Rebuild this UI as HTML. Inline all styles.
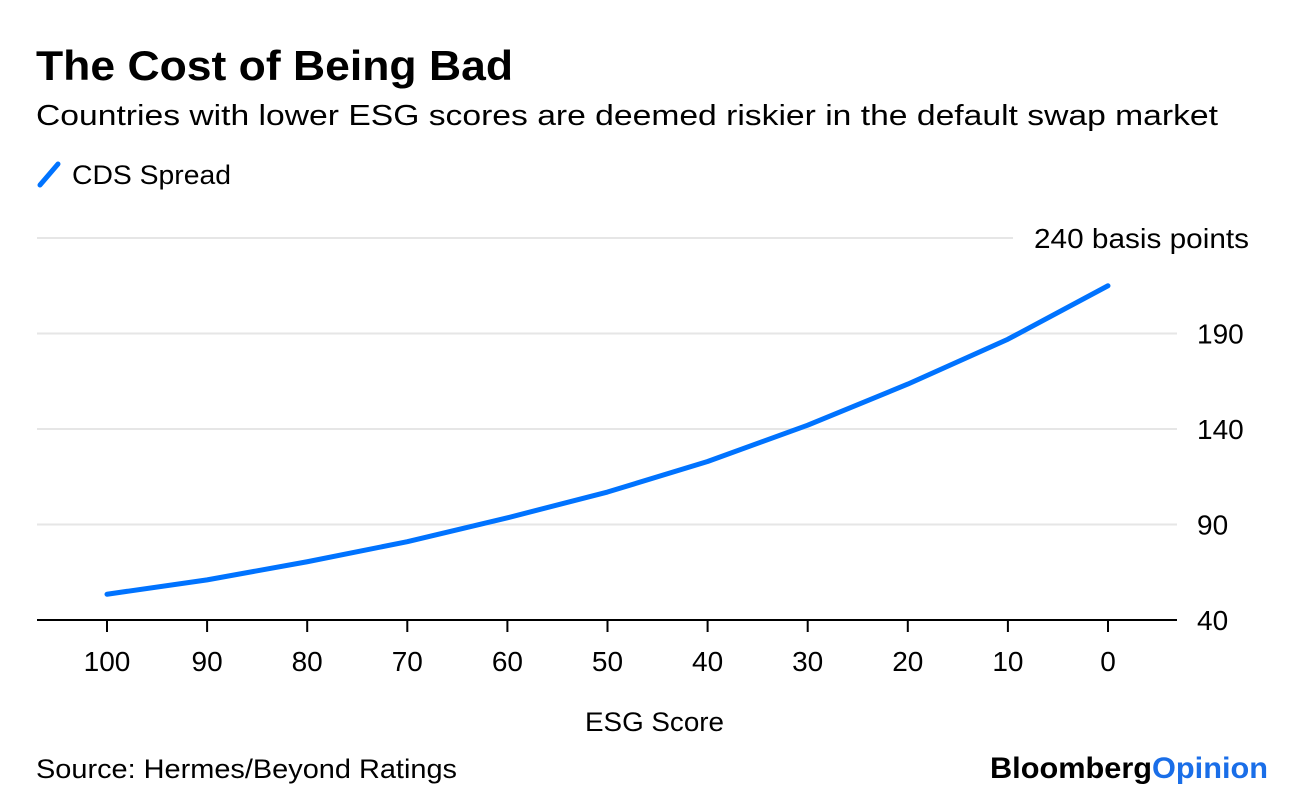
<!DOCTYPE html>
<html><head><meta charset="utf-8"><style>
body{margin:0;background:#fff;width:1296px;height:800px;overflow:hidden;font-family:"Liberation Sans",sans-serif;}
svg text{font-family:"Liberation Sans",sans-serif;}
</style></head><body>
<svg id="chart" width="1296" height="800" xmlns="http://www.w3.org/2000/svg">
<text x="36" y="80" font-size="42" font-weight="bold" fill="#000" textLength="477" lengthAdjust="spacingAndGlyphs">The Cost of Being Bad</text>
<text x="36" y="125" font-size="29" fill="#000" textLength="1182" lengthAdjust="spacingAndGlyphs">Countries with lower ESG scores are deemed riskier in the default swap market</text>
<g>
<line x1="40" y1="185" x2="58" y2="164" stroke="#0073ff" stroke-width="5" stroke-linecap="round"/>
<text x="72" y="184" font-size="27" fill="#000" textLength="159" lengthAdjust="spacingAndGlyphs">CDS Spread</text>
</g>
<g id="grid"></g><g id="axes"></g><g id="series"></g>
<text x="585" y="731" font-size="27" fill="#000" textLength="139" lengthAdjust="spacingAndGlyphs">ESG Score</text>
<text x="36" y="778" font-size="27" fill="#000" textLength="421" lengthAdjust="spacingAndGlyphs">Source: Hermes/Beyond Ratings</text>
<text x="990" y="778" font-size="30" font-weight="bold" textLength="278" lengthAdjust="spacingAndGlyphs"><tspan fill="#000">Bloomberg</tspan><tspan fill="#1a6ee8">Opinion</tspan></text>
</svg>
<script>
const xCategories=[100,90,80,70,60,50,40,30,20,10,0];
const cdsValues=[53.5,61,70.5,81,93.5,107,123,142,163.5,187,215];
const yTicks=[40,90,140,190,240];
const NS="http://www.w3.org/2000/svg";
const X=v=>1108+(107-1108)*v/100;
const Y=v=>620-(v-40)*(382/200);
function mk(t,a,p){const e=document.createElementNS(NS,t);for(const k in a)e.setAttribute(k,a[k]);p.appendChild(e);return e;}
const g=document.getElementById('grid'),ax=document.getElementById('axes'),s=document.getElementById('series');
yTicks.forEach((t,i)=>{
 const last=i==yTicks.length-1;
 if(i>0){const l=mk('line',{x1:37,x2:last?1013:1177,y1:Y(t),y2:Y(t),stroke:'#e6e6e6','stroke-width':2},g);
 
 }
 const tx=mk('text',{x:last?1034:1197,y:Y(t)+10,'font-size':28,fill:'#000'},ax);
 tx.textContent=last?(t+' basis points'):String(t);
 if(last){tx.setAttribute('textLength',215);tx.setAttribute('lengthAdjust','spacingAndGlyphs');}
 
 
});
const base=mk('line',{x1:37,x2:1177,y1:620,y2:620,stroke:'#000','stroke-width':2},ax);


xCategories.forEach(c=>{
 const tk=mk('line',{x1:X(c),x2:X(c),y1:620,y2:632,stroke:'#000','stroke-width':2},ax);
 
 
 const tx=mk('text',{x:X(c),y:671,'font-size':28,'text-anchor':'middle',fill:'#000'},ax);
 tx.textContent=c;
 
 
});
const p=mk('polyline',{points:xCategories.map((c,i)=>X(c)+','+Y(cdsValues[i])).join(' '),fill:'none',stroke:'#0073ff','stroke-width':5,'stroke-linecap':'round','stroke-linejoin':'round'},s);


</script>
</body></html>
